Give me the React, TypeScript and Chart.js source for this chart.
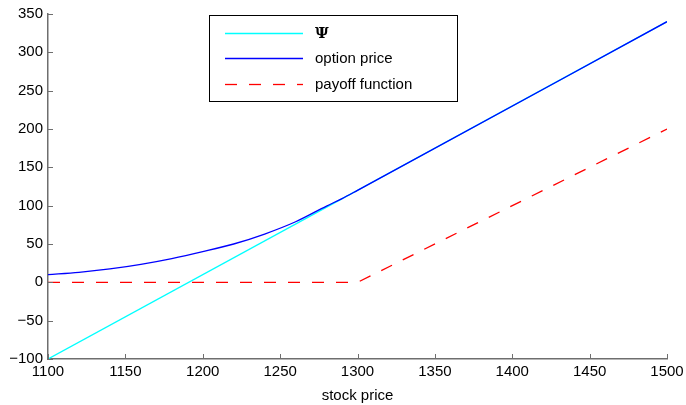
import React, { useEffect, useRef } from "react";
import { Chart, registerables } from "chart.js";
Chart.register(...registerables);

const psiX = [1100, 1500];
const psiY = [-100, 340];
const optionX = [1100, 1120, 1140, 1160, 1180, 1200, 1220, 1240, 1260, 1280, 1290, 1300, 1500];
const optionY = [10, 13, 17.5, 23.5, 31, 40, 50, 63, 79, 99.5, 109.2, 120, 340];
const payoffX = [1100, 1300, 1500];
const payoffY = [0, 0, 200];
const seriesLabels = ["\u03A8", "option price", "payoff function"];
const seriesColors = ["#00ffff", "#0000ff", "#ff0000"];
const seriesDash = [[], [], [12, 12]];
const xLabel = "stock price";

const FONT = "'Liberation Sans', Arial, Helvetica, sans-serif";
const AXIS = "#6e6e6e";

const pts = (xs: number[], ys: number[]) => xs.map((x, i) => ({ x, y: ys[i] }));

const tickPlugin = {
  id: "inwardTicks",
  afterDatasetsDraw(chart: any) {
    const ctx = chart.ctx;
    const { x, y } = chart.scales;
    const area = chart.chartArea;
    ctx.save();
    ctx.strokeStyle = AXIS;
    ctx.lineWidth = 1;
    ctx.beginPath();
    x.ticks.forEach((t: any) => {
      const px = Math.round(x.getPixelForValue(t.value)) + 0.5;
      ctx.moveTo(px, area.bottom);
      ctx.lineTo(px, area.bottom - 5);
    });
    y.ticks.forEach((t: any) => {
      const py = Math.round(y.getPixelForValue(t.value)) + 0.5;
      ctx.moveTo(area.left, py);
      ctx.lineTo(area.left + 5, py);
    });
    ctx.stroke();
    ctx.restore();
  },
};

const legendPlugin = {
  id: "boxLegend",
  afterDraw(chart: any) {
    const ctx = chart.ctx;
    const bx = 209.5, by = 15.5, bw = 248, bh = 86;
    ctx.save();
    ctx.fillStyle = "#ffffff";
    ctx.fillRect(bx, by, bw, bh);
    ctx.strokeStyle = "#000000";
    ctx.lineWidth = 1;
    ctx.strokeRect(bx, by, bw, bh);
    const rows = [33, 58, 84];
    seriesLabels.forEach((label, i) => {
      const yy = rows[i] + 0.5;
      ctx.beginPath();
      ctx.strokeStyle = seriesColors[i];
      ctx.lineWidth = 1.3;
      ctx.setLineDash(seriesDash[i]);
      ctx.moveTo(225, yy);
      ctx.lineTo(303, yy);
      ctx.stroke();
      ctx.setLineDash([]);
      ctx.fillStyle = "#000000";
      ctx.font = i === 0 ? `bold 15px 'DejaVu Serif', serif` : `15px ${FONT}`;
      ctx.textBaseline = "middle";
      ctx.fillText(label, 315, rows[i] + 1);
    });
    ctx.restore();
  },
};

export default function App() {
  const ref = useRef<HTMLCanvasElement | null>(null);
  useEffect(() => {
    document.body.style.margin = "0";
    const canvas = ref.current!;
    const chart = new Chart(canvas, {
      type: "scatter",
      data: {
        datasets: [
          {
            label: seriesLabels[1],
            data: pts(optionX, optionY),
            borderColor: seriesColors[1],
            showLine: true,
            pointRadius: 0,
            borderWidth: 1.3,
            cubicInterpolationMode: "monotone",
            order: 1,
          } as any,
          {
            label: seriesLabels[0],
            data: pts(psiX, psiY),
            borderColor: seriesColors[0],
            showLine: true,
            pointRadius: 0,
            borderWidth: 1.3,
            order: 2,
          } as any,
          {
            label: seriesLabels[2],
            data: pts(payoffX, payoffY),
            borderColor: seriesColors[2],
            borderDash: seriesDash[2],
            showLine: true,
            pointRadius: 0,
            borderWidth: 1.3,
            order: 3,
          } as any,
        ],
      },
      options: {
        animation: false,
        responsive: false,
        maintainAspectRatio: false,
        layout: { padding: { top: 14, right: 19, left: 0, bottom: 0 } },
        plugins: { legend: { display: false }, tooltip: { enabled: false } },
        scales: {
          x: {
            type: "linear",
            min: 1100,
            max: 1500,
            ticks: {
              stepSize: 50,
              color: "#000000",
              font: { family: FONT, size: 15 },
              padding: 4,
              maxRotation: 0,
              callback: (v: any) => String(v),
            },
            grid: { display: false, drawTicks: false },
            border: { display: true, color: AXIS, width: 1.5 },
            title: {
              display: true,
              text: xLabel,
              color: "#000000",
              font: { family: FONT, size: 15 },
              padding: { top: 3, bottom: 0 },
            },
            afterFit(scale: any) {
              scale.height = 46;
              scale.paddingRight = 0;
              scale.paddingLeft = 0;
            },
          },
          y: {
            type: "linear",
            min: -100,
            max: 350,
            ticks: {
              stepSize: 50,
              color: "#000000",
              font: { family: FONT, size: 15 },
              padding: 5,
              callback: (v: any) => String(v).replace("-", "\u2212"),
            },
            grid: { display: false, drawTicks: false },
            border: { display: true, color: AXIS, width: 1.5 },
            afterFit(scale: any) {
              scale.width = 48;
              scale.paddingTop = 0;
              scale.paddingBottom = 0;
            },
          },
        },
      } as any,
      plugins: [tickPlugin, legendPlugin],
    });
    return () => chart.destroy();
  }, []);
  return (
    <div style={{ width: 686, height: 405, background: "#fff" }}>
      <canvas ref={ref} width={686} height={405} style={{ display: "block" }} />
    </div>
  );
}
